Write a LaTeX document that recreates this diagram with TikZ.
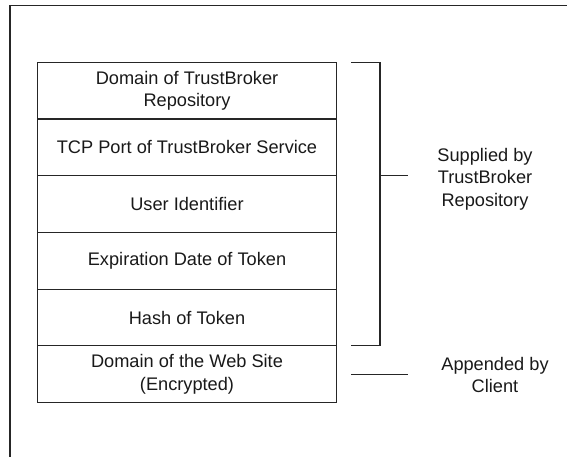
\documentclass[tikz,border=0pt]{standalone}
\usepackage{fontspec}
\setmainfont{Liberation Sans}
\usetikzlibrary{positioning}
\tikzset{
    myrow/.style = {rectangle, draw=black!85, line width=1.1pt, align=center, minimum width=299.4pt, minimum height=56.73pt, inner sep=0pt, outer sep=0pt, text=black!90},
    mylabel/.style = {align=center, inner sep=0pt, text=black!90},
    edgen/.style = {-, line width=1.1pt, black!85},
    every picture/.style={font issue=\fontsize{18.2}{22.5}},
    font issue/.style={execute at begin picture={#1\selectfont}}
}
\begin{document}
\begin{tikzpicture}[x=1pt,y=1pt]
\useasboundingbox (0,0) rectangle (567,-457);
\draw[edgen] (580,-5.5) -- (10,-5.5) -- (10,-470);

\node[myrow] at (187,-90.65) (f1) {Domain of TrustBroker\\Repository};
\node[myrow, below=0pt of f1] (f2) {TCP Port of TrustBroker Service};
\node[myrow, below=0pt of f2] (f3) {User Identifier};
\node[myrow, below=0pt of f3] (f4) {Expiration Date of Token};
\node[myrow, below=0pt of f4] (f5) {Hash of Token};
\node[myrow, below=0pt of f5] (f6) {Domain of the Web Site\\(Encrypted)};

\node[mylabel] at (485,-179) (sup) {Supplied by\\TrustBroker\\Repository};
\node[mylabel] at (495,-375) (app) {Appended by\\Client};

\coordinate (b1) at ([xshift=14.3pt]f1.north east);
\coordinate (b2) at ([xshift=43.3pt]f1.north east);
\coordinate (b3) at ([xshift=14.3pt]f5.south east);
\coordinate (bm) at ([xshift=43.3pt]f3.north east);
\coordinate (bt) at ([xshift=71.6pt]f3.north east);
\coordinate (a1) at ([xshift=14.3pt]f6.east);
\coordinate (a2) at ([xshift=71.6pt]f6.east);

\draw[edgen] (b1) -- (b2) |- (b3);
\draw[edgen] (bm) -- (bt);
\draw[edgen] (a1) -- (a2);

\end{tikzpicture}
\end{document}
